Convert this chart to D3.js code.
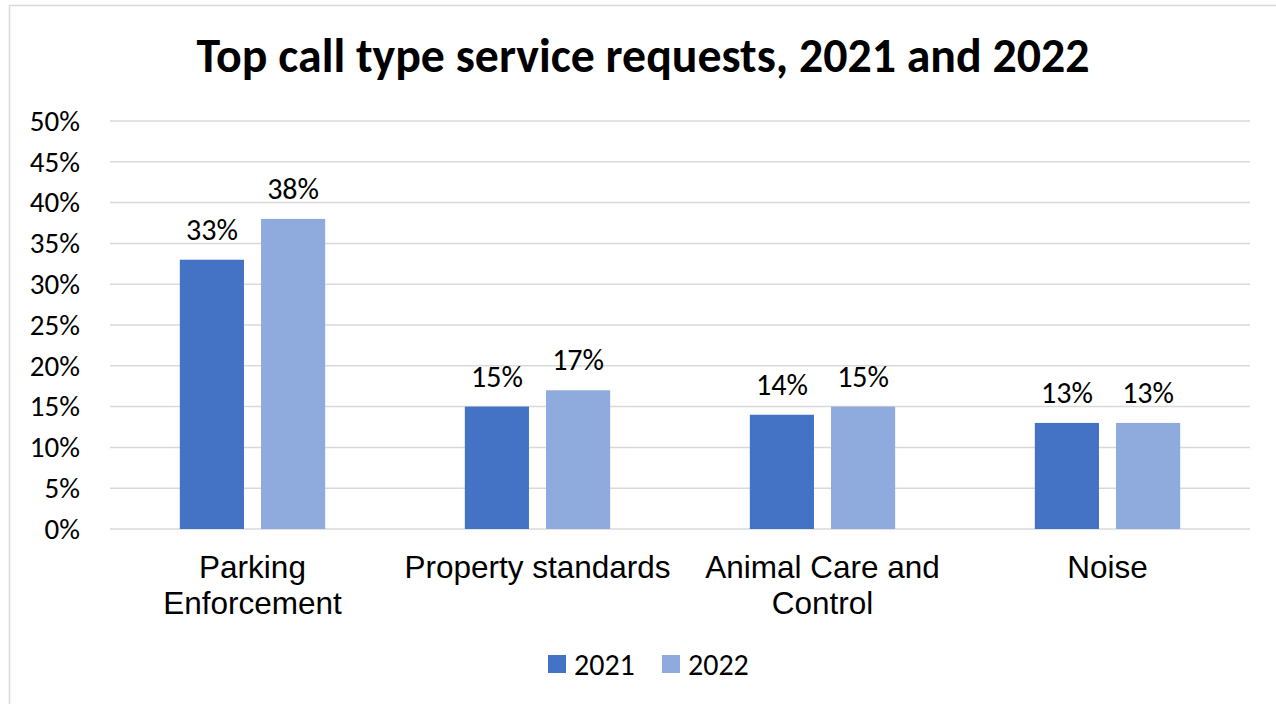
<!DOCTYPE html>
<html>
<head>
<meta charset="utf-8">
<script src="https://cdn.jsdelivr.net/npm/d3@7"></script>
<style>
  body { margin: 0; background: #fff; }
  svg { display: block; }
</style>
</head>
<body>
<div id="chart"></div>
<script>
//data
var categories = [["Parking", "Enforcement"], ["Property standards"], ["Animal Care and", "Control"], ["Noise"]];
var series = ["2021", "2022"];
var values2021 = [33, 15, 14, 13];
var values2022 = [38, 17, 15, 13];
var yTicks = [0, 5, 10, 15, 20, 25, 30, 35, 40, 45, 50];
var colors = ["#4472C4", "#8FAADC"];

var width = 1276, height = 704;
var margin = {top: 121, right: 26, bottom: 175, left: 110};
var calibri = "Carlito, Calibri, Lato, sans-serif";
var arial = "'Liberation Sans', Arial, sans-serif";

var svg = d3.select("#chart").append("svg")
  .attr("width", width)
  .attr("height", height);

//outer frame
svg.append("rect")
  .attr("x", 9.5).attr("y", 5.5)
  .attr("width", 1300).attr("height", 720)
  .attr("fill", "#fff")
  .attr("stroke", "#d9d9d9")
  .attr("stroke-width", 1.5);

var catIdx = d3.range(categories.length);
var x0 = d3.scaleBand()
  .domain(catIdx)
  .range([margin.left, width - margin.right])
  .paddingInner(0.49)
  .paddingOuter(0.245);

var x1 = d3.scaleBand()
  .domain(series)
  .range([0, x0.bandwidth()])
  .paddingInner(0.21);

var y = d3.scaleLinear()
  .domain([0, 50])
  .range([height - margin.bottom, margin.top]);

//gridlines
svg.append("g")
  .selectAll("line")
  .data(yTicks)
  .enter().append("line")
  .attr("x1", margin.left)
  .attr("x2", width - margin.right)
  .attr("y1", d => y(d))
  .attr("y2", d => y(d))
  .attr("stroke", "#d9d9d9")
  .attr("stroke-width", 1.5);

//y axis labels
var yAxis = d3.axisLeft(y).tickValues(yTicks).tickSize(0).tickPadding(30)
  .tickFormat(d => d + "%");
var yg = svg.append("g")
  .attr("transform", "translate(" + margin.left + ",0)")
  .call(yAxis);
yg.select(".domain").remove();
yg.selectAll("text")
  .attr("font-family", calibri)
  .attr("font-size", 29)
  .attr("fill", "#000");

//bars
var rows = catIdx.map(i => ({cat: i, vals: [values2021[i], values2022[i]]}));
var groups = svg.selectAll(".grp")
  .data(rows)
  .enter().append("g")
  .attr("class", "grp")
  .attr("transform", d => "translate(" + x0(d.cat) + ",0)");

groups.selectAll("rect")
  .data(d => d.vals.map((v, j) => ({s: series[j], v: v, j: j})))
  .enter().append("rect")
  .attr("x", d => x1(d.s))
  .attr("y", d => y(d.v))
  .attr("width", x1.bandwidth())
  .attr("height", d => y(0) - y(d.v))
  .attr("fill", d => colors[d.j]);

groups.selectAll("text")
  .data(d => d.vals.map((v, j) => ({s: series[j], v: v, j: j})))
  .enter().append("text")
  .attr("x", d => x1(d.s) + x1.bandwidth() / 2)
  .attr("y", d => y(d.v) - 20)
  .attr("text-anchor", "middle")
  .attr("font-family", calibri)
  .attr("font-size", 30)
  .text(d => d.v + "%");

//category labels
var catLabels = svg.append("g").selectAll("text")
  .data(rows)
  .enter().append("text")
  .attr("x", d => x0(d.cat) + x0.bandwidth() / 2)
  .attr("y", 578)
  .attr("text-anchor", "middle")
  .attr("font-family", arial)
  .attr("font-size", 31.5);
catLabels.selectAll("tspan")
  .data(d => categories[d.cat])
  .enter().append("tspan")
  .attr("x", function() { return d3.select(this.parentNode).attr("x"); })
  .attr("dy", (d, i) => i === 0 ? 0 : 36)
  .text(d => d);

//title
var title = svg.append("text")
  .attr("x", 643)
  .attr("y", 72)
  .attr("text-anchor", "middle")
  .attr("font-family", calibri)
  .attr("font-weight", "bold")
  .attr("font-size", 40)
  .text("Top call type service requests, 2021 and 2022");
var tw = title.node().getComputedTextLength();
title.attr("font-size", 40 * 893 / tw);

//legend
var legend = svg.append("g");
var lx = [548, 662];
series.forEach(function(s, i) {
  legend.append("rect")
    .attr("x", lx[i]).attr("y", 655)
    .attr("width", 18).attr("height", 18)
    .attr("fill", colors[i]);
  legend.append("text")
    .attr("x", lx[i] + 26).attr("y", 675)
    .attr("font-family", calibri)
    .attr("font-size", 30)
    .text(s);
});
</script>
</body>
</html>
